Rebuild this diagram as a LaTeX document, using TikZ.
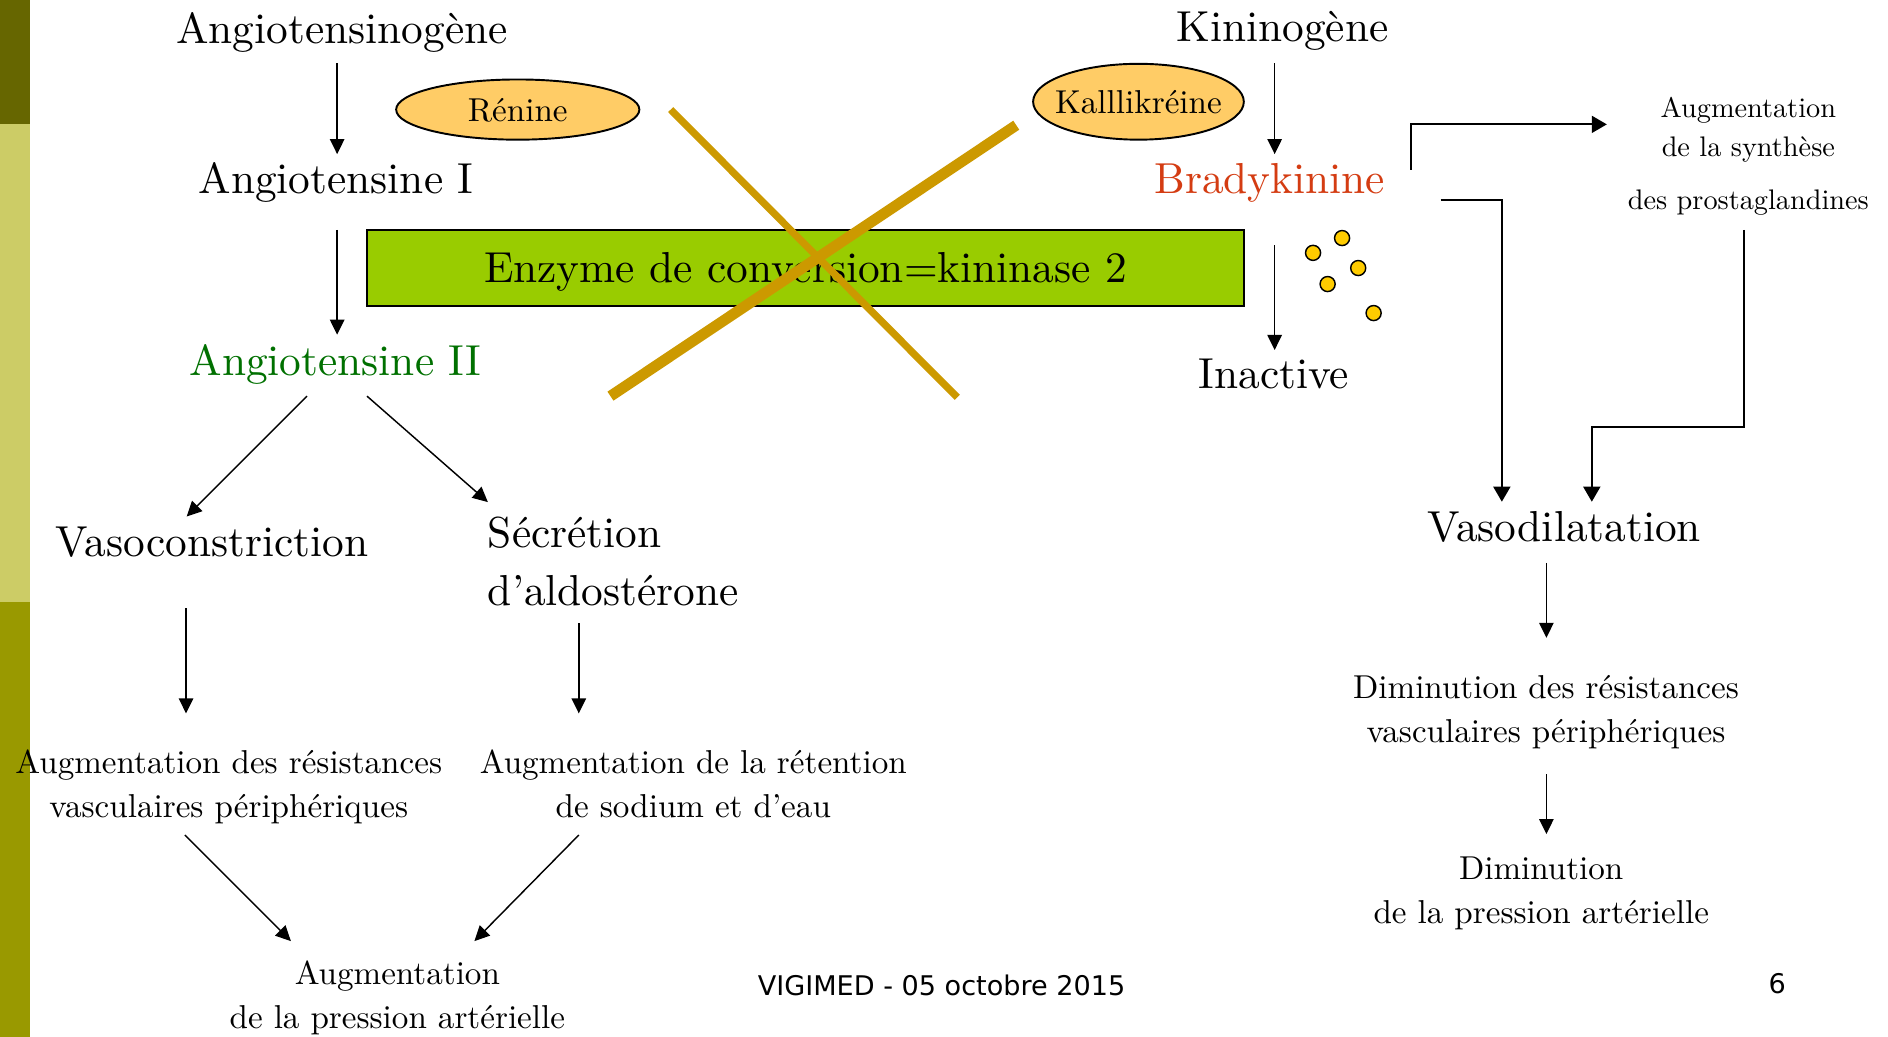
\documentclass[tikz,border=0pt]{standalone}
\usepackage{fontspec}
\setmainfont{lmroman10-regular.otf}
\newfontfamily\footfont{DejaVu Sans}
\usetikzlibrary{arrows.meta,calc,shapes.geometric}
\definecolor{barA}{RGB}{102,102,0}
\definecolor{barB}{RGB}{204,204,102}
\definecolor{barC}{RGB}{153,153,0}
\definecolor{ellfill}{RGB}{255,204,102}
\definecolor{boxfill}{RGB}{153,204,0}
\definecolor{crossc}{RGB}{204,153,0}
\definecolor{dotc}{RGB}{255,204,0}
\definecolor{angII}{RGB}{0,112,0}
\definecolor{bradyc}{RGB}{212,60,18}
\begin{document}
\begin{tikzpicture}[x=1pt,y=-1pt,
  big/.style={inner sep=0pt,anchor=base,font=\fontsize{36}{48}\selectfont},
  small/.style={inner sep=0pt,anchor=base,align=center,font=\fontsize{27.5}{37}\selectfont},
  foot/.style={inner sep=0pt,anchor=base,font=\footfont\fontsize{22.5}{27}\selectfont},
  arr/.style={-{Triangle[length=12.5pt,width=12pt]},line width=1.2pt},
  elb/.style={-{Triangle[length=12.5pt,width=14pt]},line width=1.8pt},
  ellip/.style={ellipse,draw=black,line width=1.6pt,fill=ellfill,inner sep=0pt},
  dot/.style={circle,draw=black,line width=1.2pt,fill=dotc,minimum size=12.5pt,inner sep=0pt},
  crossline/.style={draw=crossc,line cap=butt}]
\useasboundingbox (0,0) rectangle (1568,861);
% left bar
\fill[barA] (0,0) rectangle (25,103);
\fill[barB] (0,103) rectangle (25,500);
\fill[barC] (0,500) rectangle (25,861);

% enzyme box
\node[draw=black,line width=1.3pt,fill=boxfill,minimum width=728pt,minimum height=63pt,inner sep=0pt] (enzbox) at (669,222.5) {};
\node[big] (enz) at (669,235) {Enzyme de conversion=kininase 2};

% cross
\draw[crossline,line width=6pt] (557,91) -- (795,330);
\draw[crossline,line width=9pt] (844,104) -- (507,329);

% ellipses
\node[ellip,minimum width=202pt,minimum height=50pt] (ren) at (430,91) {};
\node[small] (rentxt) at (430,101) {Rénine};
\node[ellip,minimum width=175pt,minimum height=63pt] (kal) at (945.5,84.5) {};
\node[small] (kaltxt) at (945.5,94) {Kalllikréine};

% left cascade
\node[big] (ang0) at (284,36) {Angiotensinogène};
\node[big] (ang1) at (279,160.6) {Angiotensine I};
\node[big,text=angII] (ang2) at (278.6,311.5) {Angiotensine II};
\node[big] (vaso) at (176,462) {Vasoconstriction};
\node[big,anchor=base west,align=left] (secr) at (405,503) {Sécrétion\\d’aldostérone};
\node[small] (augres) at (190,679) {Augmentation des résistances\\vasculaires périphériques};
\node[small] (augret) at (575.8,679) {Augmentation de la rétention\\de sodium et d’eau};
\node[small] (augpa) at (330,854.5) {Augmentation\\de la pression artérielle};

% right cascade
\node[big] (kin) at (1065,34.6) {Kininogène};
\node[big,text=bradyc] (brady) at (1054.5,160.6) {Bradykinine};
\node[big] (inact) at (1058,323) {Inactive};
\node[inner sep=0pt,anchor=base,align=center,font=\fontsize{23.5}{32.6}\selectfont] (prosta) at (1452,173.9) {Augmentation\\de la synthèse\\[11.3pt]des prostaglandines};
\node[big] (vasod) at (1299,450) {Vasodilatation};
\node[small] (dimres) at (1284,616.7) {Diminution des résistances\\vasculaires périphériques};
\node[small] (dimpa) at (1280,767.1) {Diminution\\de la pression artérielle};

% dots
\node[dot] (d1) at (1114.6,197.7) {};
\node[dot] (d2) at (1090.5,210) {};
\node[dot] (d3) at (1128,222.6) {};
\node[dot] (d4) at (1102.6,235.9) {};
\node[dot] (d5) at (1140.8,260) {};

% footer
\node[foot] (footer) at (782,826.5) {VIGIMED - 05 octobre 2015};
\node[foot] (pnum) at (1476,825.4) {6};

% arrows left
\draw[arr] ($(ang0.base)+(-4,16.6)$) -- ($(ang1.base)+(1,-32.6)$);
\draw[arr] ($(ang1.base)+(1,30.4)$) -- ($(ang2.base)+(1.4,-33.5)$);
\draw[arr] ($(ang2.base)+(-23.6,17.5)$) -- ($(vaso.base)+(-21,-33)$);
\draw[arr] ($(ang2.base)+(26.2,17.5)$) -- ($(secr.base west)+(0.2,-86)$);
\draw[arr] ($(vaso.base)+(-21.5,43)$) -- ($(augres.base)+(-35.5,-86.5)$);
\draw[arr] ($(secr.base west)+(75.7,14.6)$) -- ($(augret.base)+(-95.1,-86.5)$);
\draw[arr] ($(augres.base)+(-36.5,14.5)$) -- ($(augpa.base)+(-88.4,-72.9)$);
\draw[arr] ($(augret.base)+(-95.1,14.5)$) -- ($(augpa.base)+(64,-72.9)$);

% arrows right
\draw[arr] ($(kin.base)+(-6.4,18)$) -- ($(brady.base)+(4.1,-32.6)$);
\draw[arr] ($(brady.base)+(4.1,42.9)$) -- ($(inact.base)+(0.6,-32.3)$);
\draw[elb] ($(brady.base)+(117.1,-19.6)$) |- ($(prosta.base)+(-117.5,-70.6)$);
\draw[elb] ($(brady.base)+(142,5.4)$) -| ($(vasod.base)+(-51.7,-33.3)$);
\draw[elb] ($(prosta.base)+(-3.8,17.1)$) -- ++(0,163.4) -| ($(vasod.base)+(23,-33.3)$);
\draw[arr] ($(vasod.base)+(-14.7,17.4)$) -- ($(dimres.base)+(0.3,-87)$);
\draw[arr] ($(dimres.base)+(0.3,26.2)$) -- ($(dimpa.base)+(4.3,-74.4)$);
\end{tikzpicture}
\end{document}
